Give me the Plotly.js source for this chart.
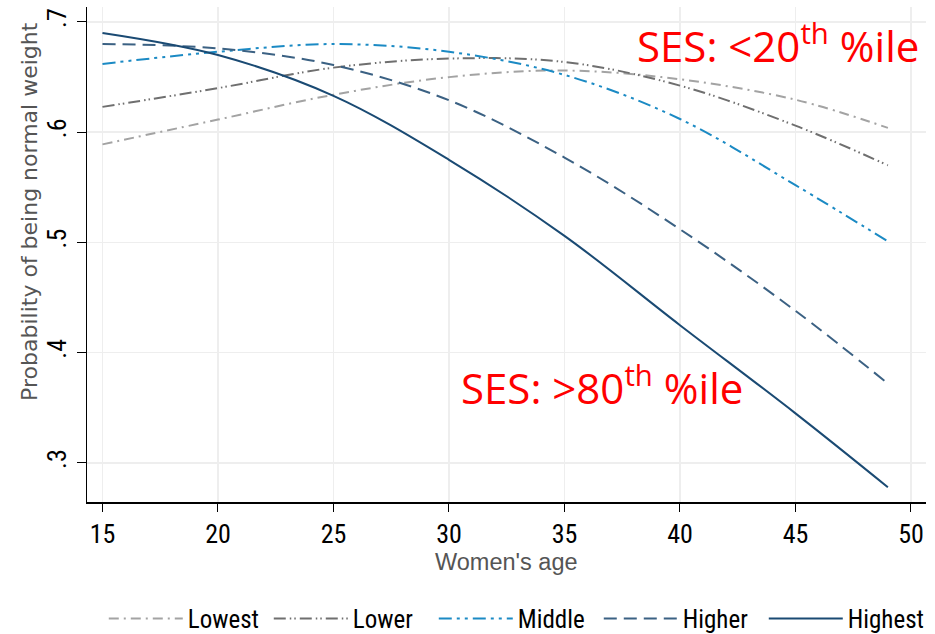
<!DOCTYPE html>
<html>
<head>
<meta charset="utf-8">
<script src="https://cdn.plot.ly/plotly-3.0.1.min.js"></script>
<style>html,body{margin:0;padding:0;background:#fff;}#chart{width:935px;height:634px;}</style>
</head>
<body>
<div id="chart"></div>
<script>
// Women's age (x) and predicted probability of being normal weight, by SES group
const ages = [15, 20, 25, 30, 35, 40, 45, 49];
const lowest  = [0.589, 0.6115, 0.634, 0.650, 0.656, 0.648, 0.6295, 0.604];
const lower   = [0.623, 0.640, 0.6586, 0.6668, 0.6637, 0.6423, 0.606, 0.570];
const middle  = [0.662, 0.673, 0.680, 0.673, 0.652, 0.612, 0.552, 0.501];
const higher  = [0.680, 0.676, 0.661, 0.629, 0.577, 0.512, 0.438, 0.372];
const highest = [0.690, 0.670, 0.633, 0.575, 0.506, 0.425, 0.345, 0.278];
const seriesNames = ["Lowest", "Lower", "Middle", "Higher", "Highest"];
const xTicks = [15, 20, 25, 30, 35, 40, 45, 50];
const yTicks = [0.3, 0.4, 0.5, 0.6, 0.7];
const yTickText = [".3", ".4", ".5", ".6", ".7"];
const xTitle = "Women's age";
const yTitle = "Probability of being normal weight";
const noteTop = "SES: <20<sup>th</sup> %ile";
const noteBottom = "SES: >80<sup>th</sup> %ile";

const colors = ["#a3a3a3", "#6f6f6f", "#1b8ac4", "#3b6183", "#1a4a73"];
const dashes = ["10px,5px,2px,5px", "12px,4px,1.5px,3px,1.5px,4px", "13px,5px,3px,5px,3px,5px", "13px,7px", "solid"];
const seriesData = [lowest, lower, middle, higher, highest];

const narrow = "Liberation Sans Narrow, Arial Narrow, Roboto Condensed, Liberation Sans, Arial, sans-serif";
const regular = "Liberation Sans, Arial, Helvetica, sans-serif";
const wide = "DejaVu Sans, Verdana, sans-serif";

const traces = seriesData.map((vals, i) => ({
  type: "scatter", mode: "lines", x: ages, y: vals, name: seriesNames[i],
  line: {color: colors[i], width: 2, dash: dashes[i], shape: "spline", smoothing: 1}
}));

const layout = {
  width: 935, height: 634,
  margin: {l: 87, r: 9, t: 7, b: 132, autoexpand: false},
  paper_bgcolor: "#ffffff", plot_bgcolor: "#ffffff",
  showlegend: true,
  xaxis: {
    range: [14.33, 50.65], tickvals: xTicks, ticktext: xTicks.map(String),
    showline: true, linecolor: "#000", linewidth: 1.5, ticks: "outside", ticklen: 8, tickcolor: "#000",
    showgrid: true, gridcolor: "#eeeeee", gridwidth: 1.5, zeroline: false,
    tickfont: {family: narrow, size: 26, color: "#000"}
  },
  yaxis: {
    range: [0.2646, 0.7136], tickvals: yTicks, ticktext: yTickText, tickangle: -90,
    showline: true, linecolor: "#000", linewidth: 1.5, ticks: "outside", ticklen: 9, tickcolor: "#000",
    showgrid: true, gridcolor: "#eeeeee", gridwidth: 1.5, zeroline: false,
    tickfont: {family: narrow, size: 26, color: "#000"}
  },
  legend: {
    orientation: "h", x: 0.02, xanchor: "left", y: -0.236, yanchor: "middle",
    itemwidth: 74, entrywidth: 76, entrywidthmode: "pixels",
    font: {family: narrow, size: 25, color: "#000"}, bgcolor: "rgba(0,0,0,0)"
  },
  annotations: [
    {xref: "paper", yref: "paper", x: 0.5, y: -0.121, xanchor: "center", yanchor: "middle", showarrow: false,
     text: xTitle, font: {family: regular, size: 23.5, color: "#555"}},
    {xref: "paper", yref: "paper", x: -0.068, y: 0.588, xanchor: "center", yanchor: "middle", showarrow: false,
     textangle: -90, text: yTitle, font: {family: wide, size: 22, color: "#555"}},
    {xref: "paper", yref: "paper", x: 0.994, y: 0.927, xanchor: "right", yanchor: "middle", showarrow: false,
     text: noteTop, font: {family: "Open Sans, Noto Sans, sans-serif", size: 42, color: "#ff0000"}},
    {xref: "paper", yref: "paper", x: 0.443, y: 0.236, xanchor: "left", yanchor: "middle", showarrow: false,
     text: noteBottom, font: {family: "Open Sans, Noto Sans, sans-serif", size: 42, color: "#ff0000"}}
  ]
};

Plotly.newPlot("chart", traces, layout, {displayModeBar: false, staticPlot: true});
</script>
</body>
</html>
